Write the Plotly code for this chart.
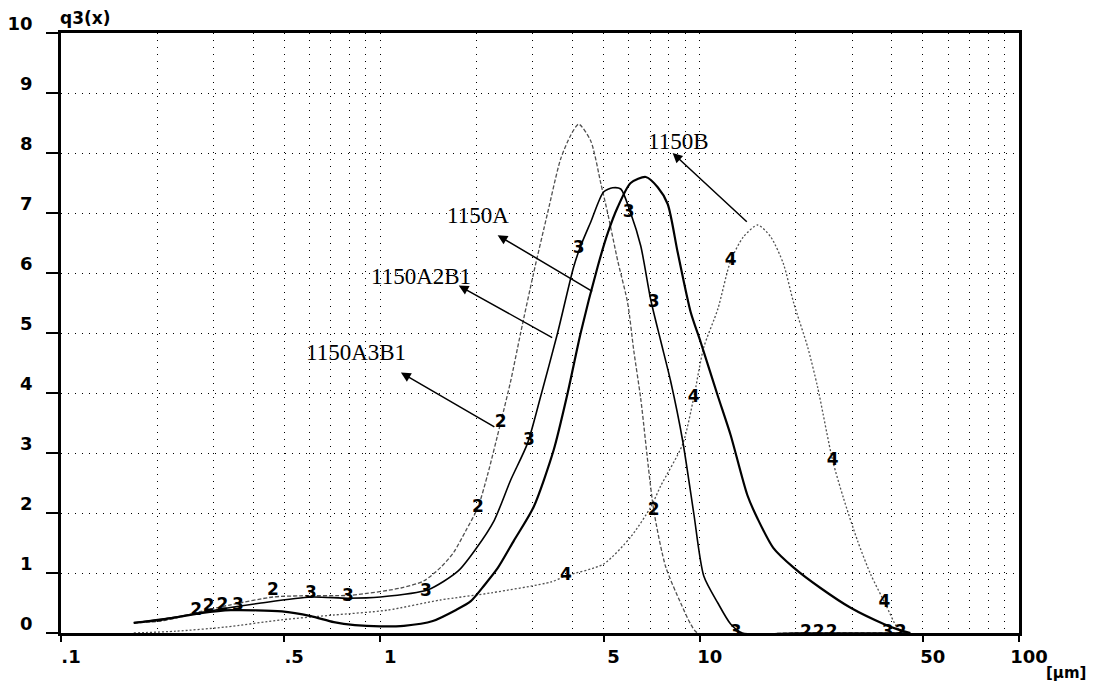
import numpy as np
import plotly.graph_objects as go

# ---------------- data ----------------
# 1150A3B1  (curve "2")
x_a3b1 = [0.169, 0.206, 0.238, 0.274, 0.340, 0.461, 0.564, 0.809, 1.16, 1.37, 1.55, 1.70, 1.85,
          2.02, 2.17, 2.38, 2.56, 2.75, 3.02, 3.34, 3.67, 3.95, 4.18, 4.56, 4.90, 5.15, 5.54,
          5.95, 6.22, 6.54, 7.18, 7.83, 8.72, 9.37, 9.86, 20.0, 45.0]
y_a3b1 = [0.17, 0.20, 0.27, 0.36, 0.47, 0.60, 0.62, 0.63, 0.75, 0.87, 1.10, 1.35, 1.70,
          2.09, 2.65, 3.50, 4.20, 5.00, 6.00, 7.00, 7.90, 8.30, 8.48, 8.20, 7.50, 7.00, 6.20,
          5.50, 4.70, 3.90, 2.05, 1.10, 0.50, 0.15, 0.00, 0.00, 0.00]

# 1150A2B1  (curve "3")
x_a2b1 = [0.169, 0.238, 0.317, 0.423, 0.606, 0.791, 1.00, 1.41, 1.75, 1.99, 2.27, 2.56, 2.89,
          3.18, 3.59, 4.03, 4.24, 4.56, 5.00, 5.34, 5.66, 6.08, 6.54, 7.03, 7.55, 8.11, 8.85,
          9.58, 10.3, 11.4, 12.5, 13.6, 20.0, 45.0]
y_a2b1 = [0.17, 0.28, 0.40, 0.50, 0.60, 0.58, 0.60, 0.72, 1.03, 1.40, 1.87, 2.55, 3.16,
          3.95, 5.00, 6.10, 6.45, 6.85, 7.35, 7.42, 7.40, 7.00, 6.45, 5.55, 4.87, 4.20, 3.20,
          2.00, 0.95, 0.50, 0.15, 0.00, 0.00, 0.00]

# 1150A  (thick solid curve)
x_a = [0.169, 0.206, 0.274, 0.340, 0.492, 0.606, 0.715, 0.832, 1.00, 1.185, 1.46, 1.72, 1.92,
       2.12, 2.33, 2.62, 3.02, 3.49, 3.86, 4.24, 4.79, 5.15, 5.54, 6.08, 6.78, 7.39, 7.94,
       8.53, 9.37, 10.07, 11.4, 12.5, 14.1, 15.2, 17.0, 19.7, 23.9, 29.7, 37.7, 41.7, 45.7]
y_a = [0.17, 0.22, 0.33, 0.38, 0.36, 0.28, 0.18, 0.13, 0.11, 0.12, 0.20, 0.38, 0.53,
       0.80, 1.08, 1.54, 2.10, 3.05, 4.00, 5.00, 6.10, 6.66, 7.10, 7.50, 7.60, 7.43, 7.15,
       6.35, 5.35, 4.85, 3.95, 3.30, 2.30, 1.90, 1.42, 1.09, 0.75, 0.42, 0.15, 0.06, 0.00]

# 1150B  (curve "4", dotted)
x_b = [0.169, 0.229, 0.328, 0.492, 0.715, 1.05, 1.54, 2.23, 3.42, 3.81, 5.00, 6.08, 7.03,
       7.55, 8.85, 9.58, 10.3, 11.4, 12.5, 13.7, 15.2, 16.7, 18.3, 19.7, 21.8, 23.4, 26.1,
       28.2, 31.2, 34.3, 38.2, 41.7, 44.1]
y_b = [0.00, 0.03, 0.10, 0.22, 0.30, 0.38, 0.55, 0.67, 0.85, 0.95, 1.15, 1.60, 2.10,
       2.45, 3.15, 3.92, 4.76, 5.40, 6.20, 6.60, 6.80, 6.60, 6.15, 5.50, 4.76, 4.10, 2.87,
       2.25, 1.54, 0.98, 0.48, 0.08, 0.00]

# curve-number markers drawn on the curves
m2_x = [0.265, 0.290, 0.320, 0.461, 2.02, 2.38, 7.18, 21.5, 23.6, 25.9, 42.6]
m2_y = [0.37, 0.43, 0.45, 0.70, 2.09, 3.50, 2.04, 0.0, 0.0, 0.0, 0.0]
m3_x = [0.358, 0.606, 0.791, 1.39, 2.92, 4.18, 5.99, 7.18, 12.96, 38.8]
m3_y = [0.45, 0.65, 0.60, 0.68, 3.20, 6.40, 7.00, 5.50, 0.0, 0.0]
m4_x = [3.81, 9.58, 12.5, 26.1, 37.9]
m4_y = [0.95, 3.92, 6.20, 2.87, 0.50]

# sample-name labels: text position, arrow head, arrow tail (x in um, y in q3)
names = ["1150B", "1150A", "1150A2B1", "1150A3B1"]
name_x = [8.6, 2.02, 1.34, 0.838]
name_y = [8.2, 6.96, 5.94, 4.67]
head_x = [8.23, 2.33, 1.76, 1.16]
head_y = [8.0, 6.63, 5.79, 4.34]
tail_x = [14.2, 4.66, 3.49, 2.30]
tail_y = [6.83, 5.68, 4.91, 3.42]

# axes
x_tickvals = [0.1, 0.5, 1, 5, 10, 50, 100]
x_ticktext = [".1", ".5", "1", "5", "10", "50", "100"]
x_minor = [0.2, 0.3, 0.4, 0.6, 0.7, 0.8, 0.9, 2, 3, 4, 6, 7, 8, 9, 20, 30, 40, 60, 70, 80, 90]
y_tickvals = list(range(0, 11))
y_ticktext = [str(v) for v in y_tickvals]

# ---------------- figure ----------------
fig = go.Figure()

fig.add_trace(go.Scatter(x=x_b, y=y_b, mode="lines", line_shape="spline",
                         line=dict(color="#505050", width=1.3, dash="2px,2px", smoothing=0.7)))
fig.add_trace(go.Scatter(x=x_a3b1, y=y_a3b1, mode="lines", line_shape="spline",
                         line=dict(color="#505050", width=1.3, dash="4px,2px", smoothing=0.7)))
fig.add_trace(go.Scatter(x=x_a2b1, y=y_a2b1, mode="lines", line_shape="spline",
                         line=dict(color="black", width=1.6, smoothing=0.7)))
fig.add_trace(go.Scatter(x=x_a, y=y_a, mode="lines", line_shape="spline",
                         line=dict(color="black", width=2.2, smoothing=0.7)))

mfont = dict(family="DejaVu Sans", size=17, color="black", weight="bold")
for mx, my, t in [(m2_x, m2_y, "2"), (m3_x, m3_y, "3"), (m4_x, m4_y, "4")]:
    fig.add_trace(go.Scatter(x=mx, y=my, mode="text", text=[t] * len(mx),
                             textposition="middle center", textfont=mfont))

for i, n in enumerate(names):
    fig.add_annotation(x=np.log10(head_x[i]), y=head_y[i], ax=np.log10(tail_x[i]), ay=tail_y[i],
                       xref="x", yref="y", axref="x", ayref="y", text="", showarrow=True,
                       arrowhead=2, arrowsize=1.3, arrowwidth=1.5, arrowcolor="black")
    fig.add_annotation(x=np.log10(name_x[i]), y=name_y[i], xref="x", yref="y", text=n,
                       showarrow=False, xanchor="center", yanchor="middle",
                       font=dict(family="Liberation Serif", size=23, color="black"))

fig.add_annotation(x=0.026, y=1.025, xref="paper", yref="paper", text="q3(x)", showarrow=False,
                   xanchor="center", yanchor="middle",
                   font=dict(family="DejaVu Sans", size=17, color="black", weight="bold"))
fig.add_annotation(x=1.049, y=-0.066, xref="paper", yref="paper", text="[µm]", showarrow=False,
                   xanchor="center", yanchor="middle",
                   font=dict(family="DejaVu Sans", size=15, color="black", weight="bold"))

grid_dash = "1px,6px"
# the page body adds an 8px margin, so the figure is 16px smaller than the window
fig.update_layout(
    width=1083, height=675,
    margin=dict(l=53, r=72, t=25, b=50, autoexpand=False),
    paper_bgcolor="white", plot_bgcolor="white", showlegend=False,
    xaxis=dict(type="log", range=[-1, 2], tickmode="array", tickvals=x_tickvals, ticktext=x_ticktext,
               ticks="outside", ticklen=6, tickwidth=1.5, tickcolor="black",
               showline=True, linewidth=2.5, linecolor="black", mirror=True,
               showgrid=True, gridcolor="black", gridwidth=1.2, griddash=grid_dash,
               minor=dict(tickmode="array", tickvals=x_minor, ticks="", showgrid=True,
                          gridcolor="black", gridwidth=1.2, griddash=grid_dash),
               tickfont=dict(family="DejaVu Sans", size=18, color="black", weight="bold"),
               ticklabelshift=10, ticklabelstandoff=0, automargin=False, zeroline=False),
    yaxis=dict(range=[0, 10], tickmode="array", tickvals=y_tickvals, ticktext=y_ticktext,
               ticks="outside", ticklen=12, tickwidth=1.5, tickcolor="black",
               showline=True, linewidth=2.5, linecolor="black", mirror=True,
               showgrid=True, gridcolor="black", gridwidth=1.2, griddash=grid_dash,
               tickfont=dict(family="DejaVu Sans", size=18, color="black", weight="bold"),
               ticklabelshift=-9, ticklabelstandoff=10, automargin=False, zeroline=False),
)

fig.write_html("out.html")
